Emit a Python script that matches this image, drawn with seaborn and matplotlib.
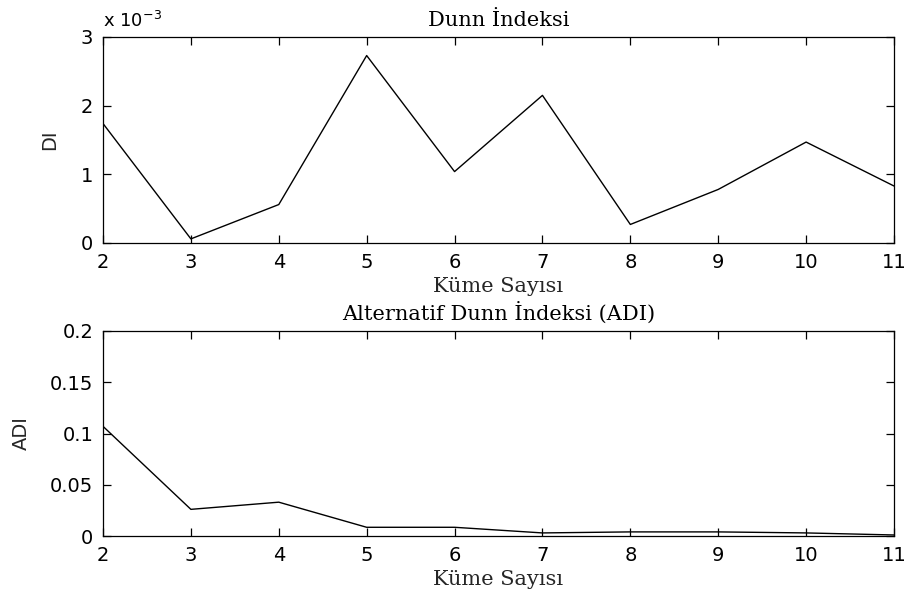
import numpy as np
import pandas as pd
import seaborn as sns
import matplotlib
matplotlib.use("Agg")
import matplotlib.pyplot as plt
from matplotlib.ticker import FuncFormatter

# Data
kume = [2, 3, 4, 5, 6, 7, 8, 9, 10, 11]
di_values = [0.00174, 0.00006, 0.00056, 0.00273, 0.00104, 0.00215, 0.00027, 0.00078, 0.00147, 0.00083]
adi_values = [0.107, 0.026, 0.033, 0.0085, 0.0085, 0.003, 0.004, 0.004, 0.003, 0.001]
di_ticks = [0, 0.001, 0.002, 0.003]
adi_ticks = [0, 0.05, 0.1, 0.15, 0.2]
adi_ticklabels = ["0", "0.05", "0.1", "0.15", "0.2"]

title_top = "Dunn İndeksi"
title_bottom = "Alternatif Dunn İndeksi (ADI)"
xlabel = "Küme Sayısı"

sns.set_theme(style="ticks")
plt.rcParams.update({
    "font.family": ["DejaVu Sans"],
    "axes.linewidth": 0.9,
    "xtick.direction": "in",
    "ytick.direction": "in",
    "xtick.major.size": 5.5,
    "ytick.major.size": 5.5,
    "xtick.major.width": 0.9,
    "ytick.major.width": 0.9,
    "xtick.top": True,
    "ytick.right": True,
    "axes.edgecolor": "black",
    "xtick.color": "black",
    "ytick.color": "black",
    "text.color": "black",
})

fig = plt.figure(figsize=(9.05, 6.01), dpi=100)
ax1 = fig.add_axes([103/905, 1-243/601, 791/905, 206/601])
ax2 = fig.add_axes([103/905, 1-536/601, 791/905, 205/601])

df1 = pd.DataFrame({"k": kume, "v": di_values})
df2 = pd.DataFrame({"k": kume, "v": adi_values})

sns.lineplot(data=df1, x="k", y="v", ax=ax1, color="black", linewidth=1.0)
sns.lineplot(data=df2, x="k", y="v", ax=ax2, color="black", linewidth=1.0)

serif = {"family": ["DejaVu Serif"], "size": 15}
tickfont = 14

for ax in (ax1, ax2):
    ax.set_xlim(2, 11)
    ax.set_xticks(kume)
    ax.tick_params(axis="both", labelsize=tickfont, pad=7, top=True, right=True,
                   which="both")
    ax.set_xlabel(xlabel, fontdict=serif, labelpad=4)
    for s in ax.spines.values():
        s.set_visible(True)
        s.set_color("black")

ax1.set_ylim(0, 0.003)
ax1.set_yticks(di_ticks)
ax1.yaxis.set_major_formatter(FuncFormatter(lambda v, _: f"{v*1e3:g}"))
ax1.set_ylabel("DI", fontsize=tickfont, labelpad=16)
ax1.set_title(title_top, fontdict=serif, pad=8)
ax1.text(0.0, 1.03, "x 10$^{-3}$", transform=ax1.transAxes, fontsize=13,
         ha="left", va="bottom")

ax2.set_ylim(0, 0.2)
ax2.set_yticks(adi_ticks)
ax2.set_yticklabels(adi_ticklabels)
ax2.set_ylabel("ADI", fontsize=tickfont, labelpad=14)
ax2.set_title(title_bottom, fontdict=serif, pad=8)

fig.savefig("out.png", dpi=100, facecolor="white")
